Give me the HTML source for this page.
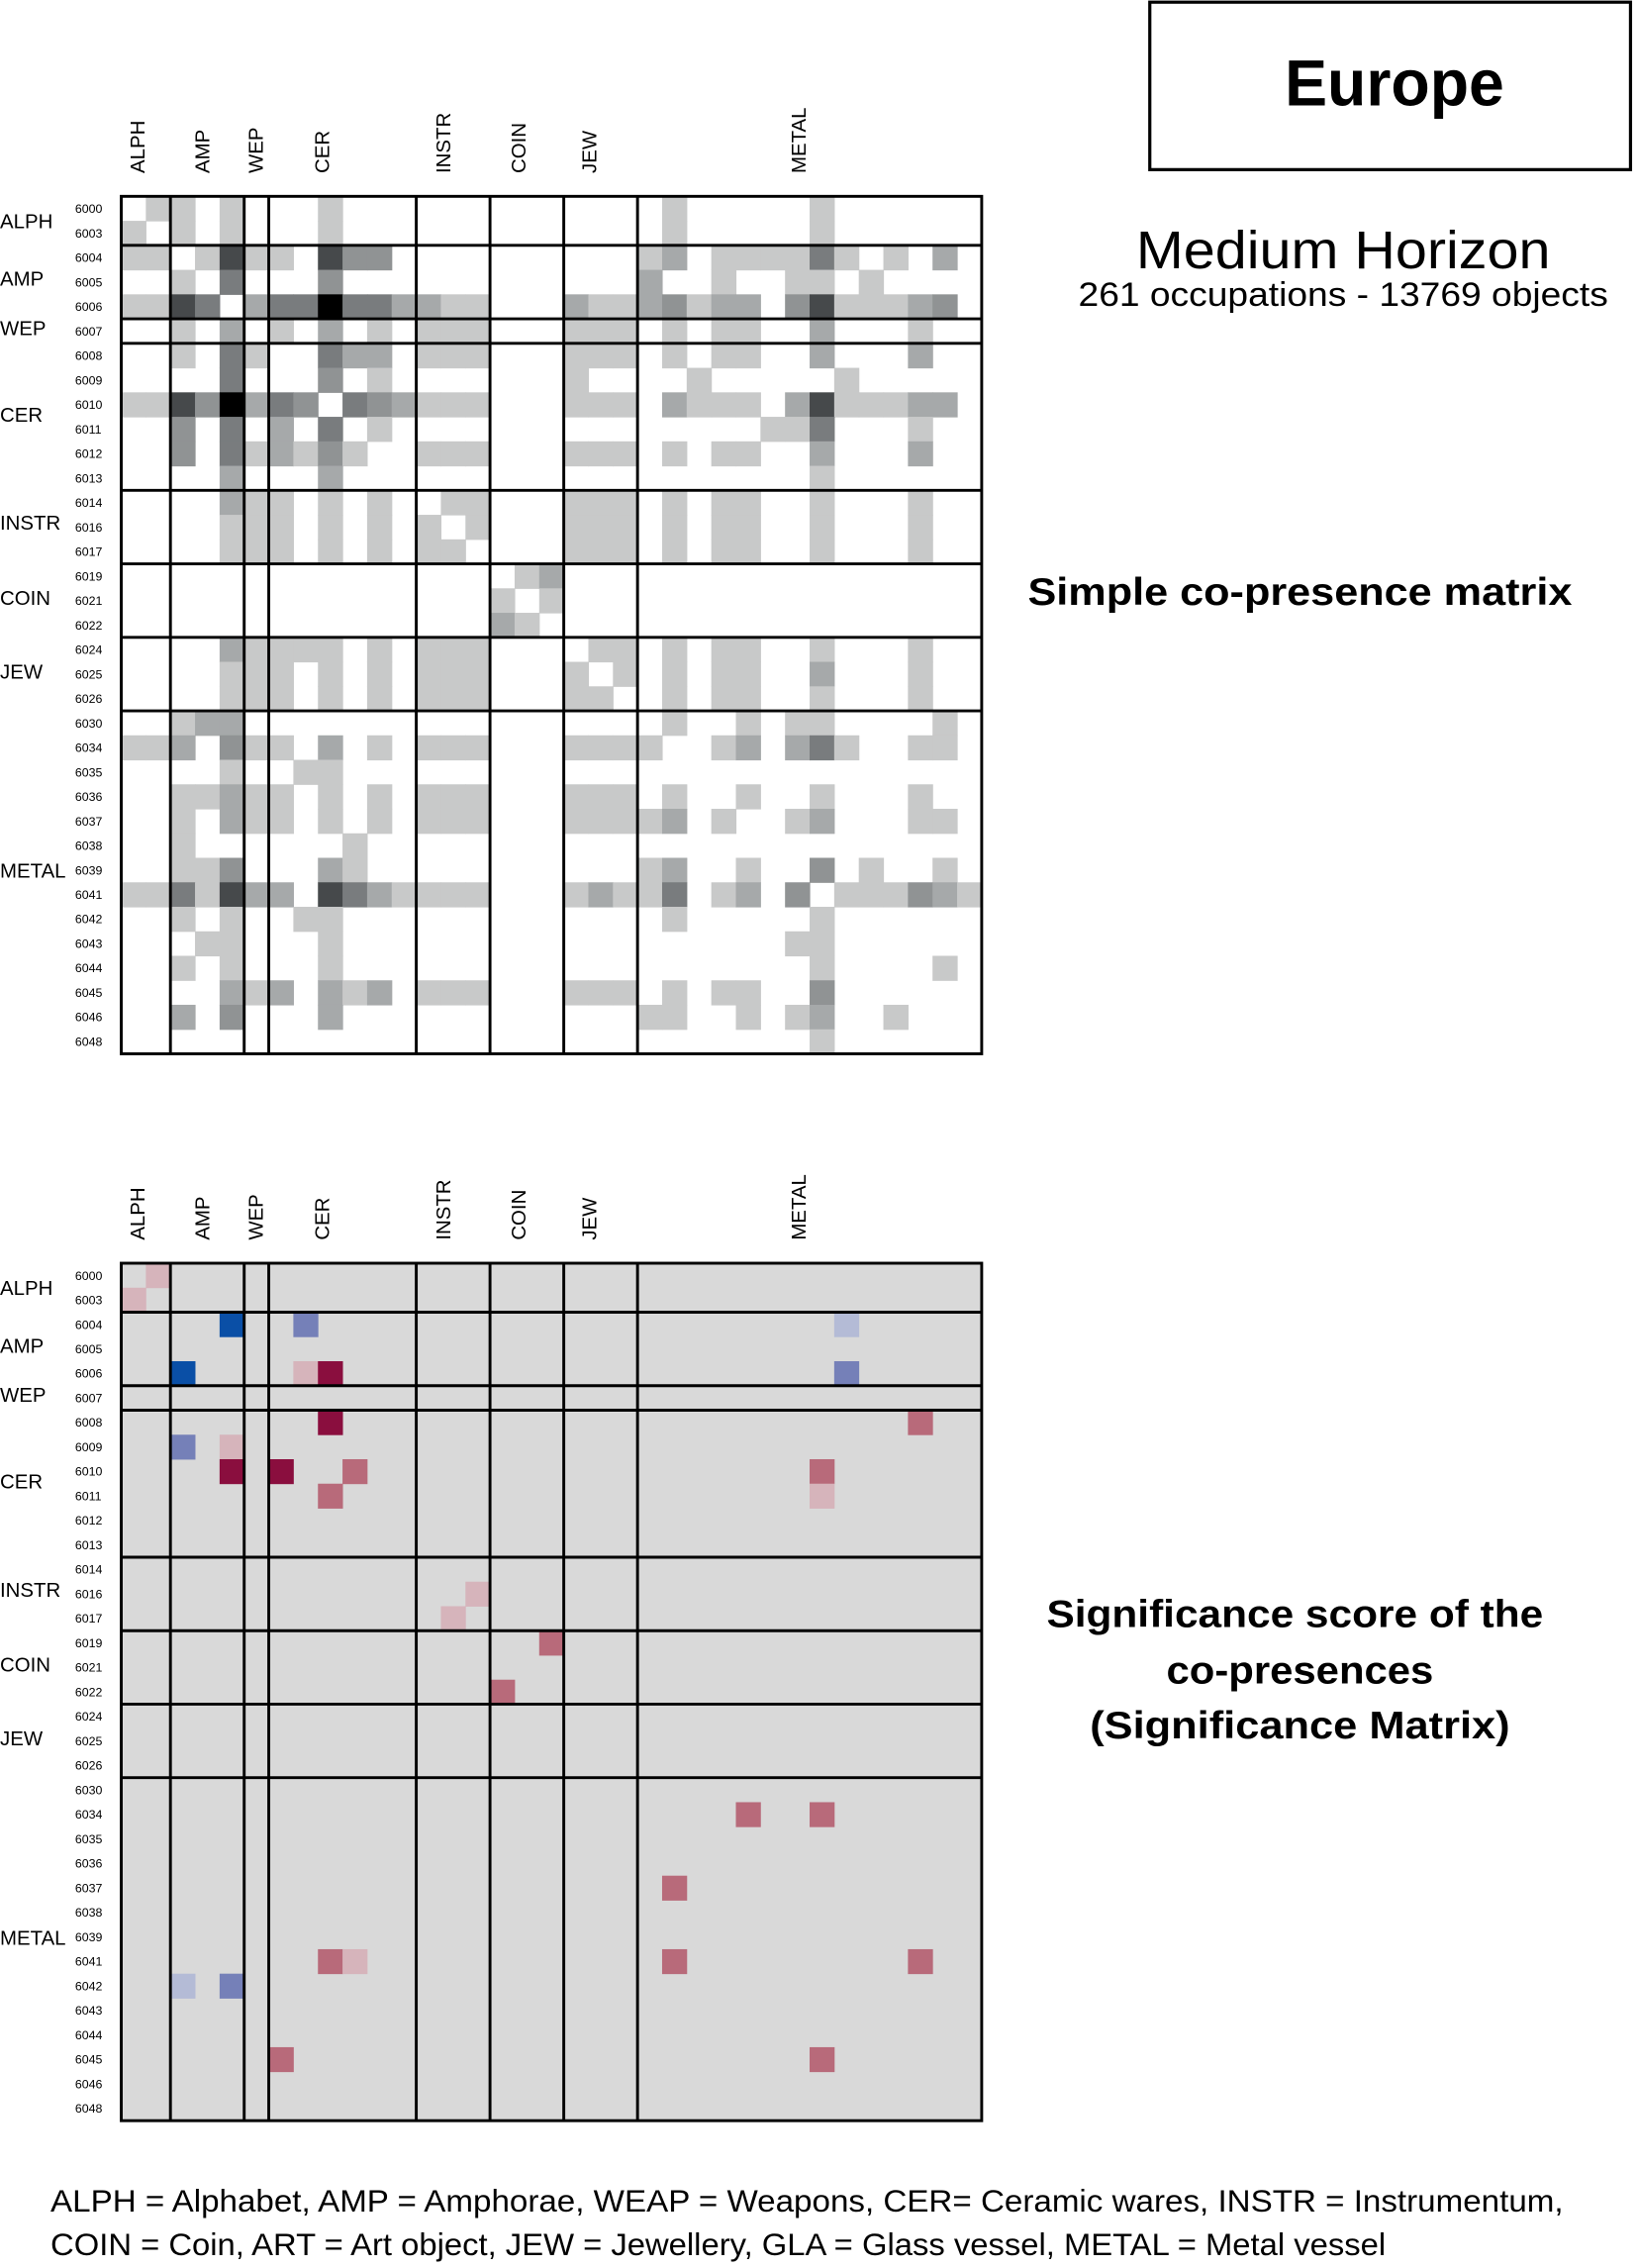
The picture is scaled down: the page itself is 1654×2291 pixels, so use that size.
<!DOCTYPE html>
<html><head><meta charset="utf-8"><style>html,body{margin:0;padding:0;background:#fff}svg{display:block}text{font-family:"Liberation Sans",sans-serif}</style></head>
<body>
<svg id="s" xmlns="http://www.w3.org/2000/svg" width="1654" height="2291" viewBox="0 0 1134 1571" preserveAspectRatio="none">
<rect x="0" y="0" width="1134" height="1571" fill="#fff"/>
<g id="m1"></g><g id="m2"></g><g id="lines"></g><g id="labels"></g>
<rect x="796.5" y="1.5" width="333" height="116" fill="none" stroke="#000" stroke-width="2.2"/>
<text x="890" y="73" font-size="45" font-weight="bold" textLength="152" lengthAdjust="spacingAndGlyphs">Europe</text>
<text x="787" y="186" font-size="37" textLength="287" lengthAdjust="spacingAndGlyphs">Medium Horizon</text>
<text x="747" y="212" font-size="23.5" textLength="367" lengthAdjust="spacingAndGlyphs">261 occupations - 13769 objects</text>
<text x="712" y="419" font-size="27" font-weight="bold" textLength="377" lengthAdjust="spacingAndGlyphs">Simple co-presence matrix</text>
<text x="725" y="1127" font-size="27" font-weight="bold" textLength="344" lengthAdjust="spacingAndGlyphs">Significance score of the</text>
<text x="808" y="1166" font-size="27" font-weight="bold" textLength="185" lengthAdjust="spacingAndGlyphs">co-presences</text>
<text x="755" y="1204" font-size="27" font-weight="bold" textLength="291" lengthAdjust="spacingAndGlyphs">(Significance Matrix)</text>
<text x="35" y="1532" font-size="21.5" textLength="1048" lengthAdjust="spacingAndGlyphs">ALPH = Alphabet, AMP = Amphorae, WEAP = Weapons, CER= Ceramic wares, INSTR = Instrumentum,</text>
<text x="35" y="1562" font-size="21.5" textLength="925" lengthAdjust="spacingAndGlyphs">COIN = Coin, ART = Art object, JEW = Jewellery, GLA = Glass vessel, METAL = Metal vessel</text>
</svg>
<script>
var NS="http://www.w3.org/2000/svg";
function el(p,t,a,txt){var e=document.createElementNS(NS,t);for(var k in a)e.setAttribute(k,a[k]);if(txt)e.textContent=txt;p.appendChild(e);return e;}
var N=35,X0=84,C=17.03,Y1=136,Y2=875,R=16.97;
var raw=[
"1:1,2:1,4:1,8:1,22:1,28:1",
"0:1,2:1,4:1,8:1,22:1,28:1",
"0:1,1:1,3:1,4:5,5:1,6:1,8:5,9:3,10:3,21:1,22:2,24:1,25:1,26:1,27:1,28:4,29:1,31:1,33:2",
"2:1,4:4,8:3,21:2,24:1,27:1,28:1,30:1",
"0:1,1:1,2:5,3:4,5:2,6:4,7:4,8:6,9:4,10:4,11:2,12:2,13:1,14:1,18:2,19:1,20:1,21:2,22:3,23:1,24:2,25:2,27:3,28:5,29:1,30:1,31:1,32:2,33:3",
"2:1,4:2,6:1,8:2,10:1,12:1,13:1,14:1,18:1,19:1,20:1,22:1,24:1,25:1,28:2,32:1",
"2:1,4:4,5:1,8:4,9:2,10:2,12:1,13:1,14:1,18:1,19:1,20:1,22:1,24:1,25:1,28:2,32:2",
"4:4,8:3,10:1,18:1,23:1,29:1",
"0:1,1:1,2:5,3:3,4:6,5:2,6:4,7:3,9:4,10:3,11:2,12:1,13:1,14:1,18:1,19:1,20:1,22:2,23:1,24:1,25:1,27:2,28:5,29:1,30:1,31:1,32:2,33:2",
"2:3,4:4,6:2,8:4,10:1,26:1,27:1,28:4,32:1",
"2:3,4:4,5:1,6:2,7:1,8:3,9:1,12:1,13:1,14:1,18:1,19:1,20:1,22:1,24:1,25:1,28:2,32:2",
"4:2,8:2,28:1",
"4:2,5:1,6:1,8:1,10:1,13:1,14:1,18:1,19:1,20:1,22:1,24:1,25:1,28:1,32:1",
"4:1,5:1,6:1,8:1,10:1,12:1,14:1,18:1,19:1,20:1,22:1,24:1,25:1,28:1,32:1",
"4:1,5:1,6:1,8:1,10:1,12:1,13:1,18:1,19:1,20:1,22:1,24:1,25:1,28:1,32:1",
"16:1,17:2","15:1,17:1","15:2,16:1",
"4:2,5:1,6:1,7:1,8:1,10:1,12:1,13:1,14:1,19:1,20:1,22:1,24:1,25:1,28:1,32:1",
"4:1,5:1,6:1,8:1,10:1,12:1,13:1,14:1,18:1,20:1,22:1,24:1,25:1,28:2,32:1",
"4:1,5:1,6:1,8:1,10:1,12:1,13:1,14:1,18:1,19:1,22:1,24:1,25:1,28:1,32:1",
"2:1,3:2,4:2,22:1,25:1,27:1,28:1,33:1",
"0:1,1:1,2:2,4:3,5:1,6:1,8:2,10:1,12:1,13:1,14:1,21:1,24:1,25:2,27:2,28:4,29:1,32:1,33:1",
"4:1,7:1,8:1",
"2:1,3:1,4:2,5:1,6:1,8:1,10:1,12:1,13:1,14:1,22:1,25:1,28:1,32:1",
"2:1,4:2,5:1,6:1,8:1,10:1,12:1,13:1,14:1,21:1,22:2,24:1,27:1,28:2,32:1,33:1",
"2:1,9:1",
"2:1,3:1,4:3,8:2,9:1,21:1,22:2,25:1,28:3,30:1,33:1",
"0:1,1:1,2:4,3:1,4:5,5:2,6:2,8:5,9:4,10:2,11:1,12:1,13:1,14:1,18:1,19:2,20:1,21:1,22:4,24:1,25:2,27:3,29:1,30:1,31:1,32:3,33:2,34:1",
"2:1,4:1,7:1,8:1,22:1,28:1",
"3:1,4:1,8:1,27:1,28:1",
"2:1,4:1,8:1,28:1,33:1",
"4:2,5:1,6:2,8:2,9:1,10:2,12:1,13:1,14:1,22:1,24:1,25:1,28:3",
"2:2,4:3,8:2,21:1,22:1,25:1,27:1,28:2,31:1",
"28:1"];
var M=[];for(var i=0;i<N;i++){M.push([]);for(var j=0;j<N;j++)M[i].push(0);}
raw.forEach(function(s,i){s.split(",").forEach(function(p){var q=p.split(":"),j=+q[0],v=+q[1];if(v>M[i][j])M[i][j]=v;if(v>M[j][i])M[j][i]=v;});});
var G=["#fff","#c8c9c9","#a6a9aa","#909394","#797c7e","#46494b","#000"];
var m1=document.getElementById("m1"),m2=document.getElementById("m2");
for(var i=0;i<N;i++)for(var j=0;j<N;j++)if(M[i][j])el(m1,"rect",{x:X0+j*C,y:Y1+i*R,width:C+0.4,height:R+0.4,fill:G[M[i][j]]});
el(m2,"rect",{x:X0,y:Y2,width:N*C,height:N*R,fill:"#d9d9d9"});
var SC={DB:"#0a4fa6",MB:"#7580b8",PB:"#b4bbd6",DR:"#8a0e3e",MR:"#b86a7a",PR:"#d6b4bb"};
var sig=[[0,1,"PR"],[1,0,"PR"],[2,4,"DB"],[2,7,"MB"],[2,29,"PB"],[4,2,"DB"],[4,7,"PR"],[4,8,"DR"],[4,29,"MB"],[6,8,"DR"],[6,32,"MR"],[7,2,"MB"],[7,4,"PR"],[8,4,"DR"],[8,6,"DR"],[8,9,"MR"],[8,28,"MR"],[9,8,"MR"],[9,28,"PR"],[13,14,"PR"],[14,13,"PR"],[15,17,"MR"],[17,15,"MR"],[22,25,"MR"],[22,28,"MR"],[25,22,"MR"],[28,8,"MR"],[28,9,"PR"],[28,22,"MR"],[28,32,"MR"],[29,2,"PB"],[29,4,"MB"],[32,6,"MR"],[32,28,"MR"]];
sig.forEach(function(s){el(m2,"rect",{x:X0+s[1]*C,y:Y2+s[0]*R,width:C+0.3,height:R+0.3,fill:SC[s[2]]});});
var L=document.getElementById("lines"),B=[2,5,6,12,15,18,21];
[Y1,Y2].forEach(function(Y){
 el(L,"rect",{x:X0,y:Y,width:N*C,height:N*R,fill:"none",stroke:"#000","stroke-width":2});
 B.forEach(function(b){el(L,"line",{x1:X0+b*C,y1:Y,x2:X0+b*C,y2:Y+N*R,stroke:"#000","stroke-width":2});
 el(L,"line",{x1:X0,y1:Y+b*R,x2:X0+N*C,y2:Y+b*R,stroke:"#000","stroke-width":2});});
});
var lab=document.getElementById("labels");
var codes=["6000","6003","6004","6005","6006","6007","6008","6009","6010","6011","6012","6013","6014","6016","6017","6019","6021","6022","6024","6025","6026","6030","6034","6035","6036","6037","6038","6039","6041","6042","6043","6044","6045","6046","6048"];
var groups=[["ALPH",0,2],["AMP",2,5],["WEP",5,6],["CER",6,12],["INSTR",12,15],["COIN",15,18],["JEW",18,21],["METAL",21,35]];
var gl={ALPH:[95,153],AMP:[140,193],WEP:[177,227],CER:[223,287],INSTR:[307,362],COIN:[359,414],JEW:[408,465],METAL:[553,603]};
[Y1,Y2].forEach(function(Y){
 codes.forEach(function(c,i){el(lab,"text",{x:52,y:Y+i*R+R/2+3,"font-size":8.5},c);});
 groups.forEach(function(g){var p=gl[g[0]];
  el(lab,"text",{x:0,y:p[1]-Y1+Y+5,"font-size":14},g[0]);
  el(lab,"text",{x:0,y:0,"font-size":14,transform:"translate("+(p[0]+5)+","+(Y-16)+") rotate(-90)"},g[0]);
 });
});
</script>
</body></html>
